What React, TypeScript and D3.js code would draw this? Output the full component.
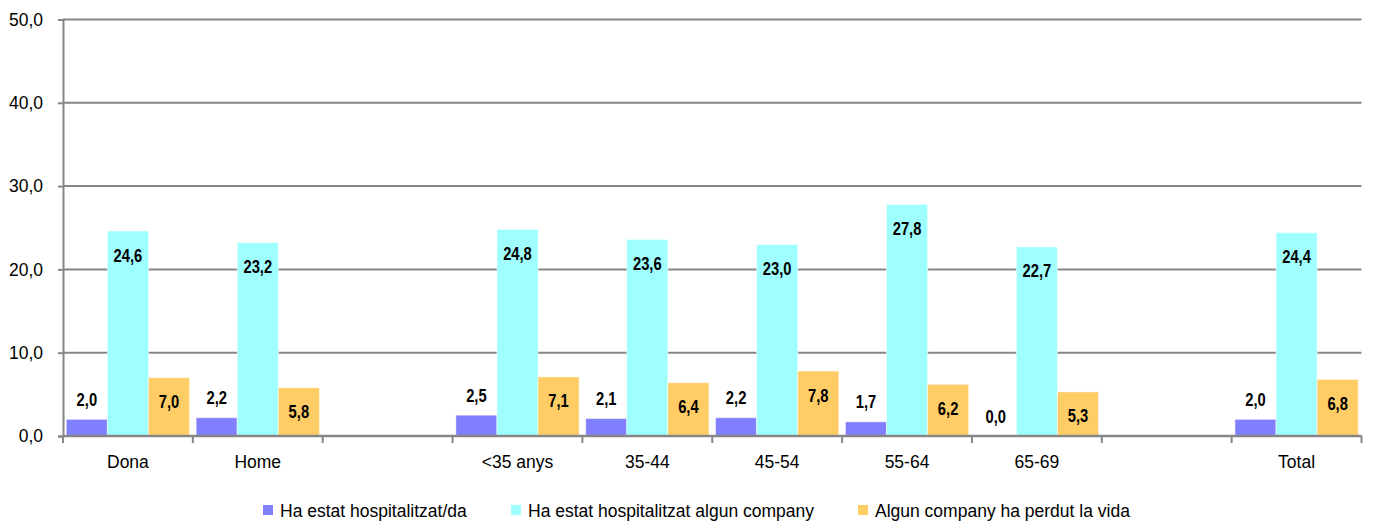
import React, { useEffect, useRef } from 'react';
import * as d3 from 'd3';

const categories = ['Dona', 'Home', '', '<35 anys', '35-44', '45-54', '55-64', '65-69', ' ', 'Total'];
const seriesNames = [
  'Ha estat hospitalitzat/da',
  'Ha estat hospitalitzat algun company',
  'Algun company ha perdut la vida',
];
const seriesColors = ['#8080FF', '#9FFFFF', '#FFCC66'];
// null = no bar/label for the empty spacer columns
const hospitalitzat: (number | null)[] = [2.0, 2.2, null, 2.5, 2.1, 2.2, 1.7, 0.0, null, 2.0];
const hospCompany: (number | null)[] = [24.6, 23.2, null, 24.8, 23.6, 23.0, 27.8, 22.7, null, 24.4];
const perdutVida: (number | null)[] = [7.0, 5.8, null, 7.1, 6.4, 7.8, 6.2, 5.3, null, 6.8];
const yTicks = [0, 10, 20, 30, 40, 50];

const fmt = (v: number) => v.toFixed(1).replace('.', ',');

const App: React.FC = () => {
  const svgRef = useRef<SVGSVGElement>(null);

  useEffect(() => {
    if (!svgRef.current) return;
    const W = 1378, H = 524;
    const left = 63, right = 1361.5, top = 19.5, bottom = 436;

    const svg = d3.select(svgRef.current);
    svg.selectAll('*').remove();
    svg.attr('width', W).attr('height', H);

    const x0 = d3.scaleBand<number>()
      .domain(d3.range(categories.length))
      .range([left, right])
      .padding(0);
    const x1 = d3.scaleBand<number>()
      .domain([0, 1, 2])
      .range([0, x0.bandwidth()])
      .paddingInner(0)
      .paddingOuter(0.08);
    const y = d3.scaleLinear().domain([0, 50]).range([bottom, top]);

    const axisColor = '#868686';
    const font = '"Liberation Sans", Arial, sans-serif';

    // gridlines
    svg.append('g')
      .selectAll('line')
      .data(yTicks.filter(t => t > 0))
      .enter()
      .append('line')
      .attr('x1', left).attr('x2', right)
      .attr('y1', d => y(d)).attr('y2', d => y(d))
      .attr('stroke', axisColor).attr('stroke-width', 2);

    // y axis
    const yAxis = svg.append('g')
      .attr('transform', `translate(${left},0)`)
      .call(d3.axisLeft(y).tickValues(yTicks).tickSize(5).tickFormat(d => fmt(d as number)));
    yAxis.selectAll('path, line').attr('stroke', axisColor).attr('stroke-width', 2);
    yAxis.selectAll('text')
      .attr('x', -20)
      .attr('font-family', font).attr('font-size', 17.5).attr('fill', '#000');

    const series = [hospitalitzat, hospCompany, perdutVida];

    // bars
    series.forEach((vals, si) => {
      const g = svg.append('g');
      g.selectAll('rect')
        .data(vals.map((v, i) => ({ v, i })).filter(d => d.v !== null && d.v > 0))
        .enter()
        .append('rect')
        .attr('x', d => (x0(d.i) || 0) + (x1(si) || 0))
        .attr('y', d => y(d.v as number))
        .attr('width', x1.bandwidth())
        .attr('height', d => bottom - y(d.v as number))
        .attr('fill', seriesColors[si])
        .attr('stroke', '#ffffff').attr('stroke-opacity', 0.5).attr('stroke-width', 1);
    });

    // x axis
    svg.append('line')
      .attr('x1', left).attr('x2', right)
      .attr('y1', bottom).attr('y2', bottom)
      .attr('stroke', axisColor).attr('stroke-width', 2.5);
    svg.append('g')
      .selectAll('line')
      .data(d3.range(categories.length + 1))
      .enter()
      .append('line')
      .attr('x1', d => left + d * x0.step()).attr('x2', d => left + d * x0.step())
      .attr('y1', bottom).attr('y2', bottom + 7)
      .attr('stroke', axisColor).attr('stroke-width', 2);
    svg.append('g')
      .selectAll('text')
      .data(categories)
      .enter()
      .append('text')
      .attr('x', (_, i) => (x0(i) || 0) + x0.bandwidth() / 2)
      .attr('y', 468)
      .attr('text-anchor', 'middle')
      .attr('font-family', font).attr('font-size', 17.5)
      .text(d => d.trim());

    // value labels (bold, horizontally condensed like Arial Narrow)
    series.forEach((vals, si) => {
      svg.append('g')
        .selectAll('text')
        .data(vals.map((v, i) => ({ v, i })).filter(d => d.v !== null))
        .enter()
        .append('text')
        .attr('transform', d => {
          const cx = (x0(d.i) || 0) + (x1(si) || 0) + x1.bandwidth() / 2;
          const cy = si === 0 ? y(d.v as number) - 20 : y(d.v as number) + 24;
          return `translate(${cx},${cy}) scale(0.82,1)`;
        })
        .attr('text-anchor', 'middle')
        .attr('dominant-baseline', 'central')
        .attr('font-family', font).attr('font-weight', 'bold').attr('font-size', 18)
        .attr('fill', '#000')
        .text(d => fmt(d.v as number));
    });

    // legend
    const legendX = [263, 511, 858];
    const leg = svg.append('g');
    seriesNames.forEach((name, i) => {
      leg.append('rect')
        .attr('x', legendX[i]).attr('y', 505)
        .attr('width', 10).attr('height', 10)
        .attr('fill', seriesColors[i]);
      leg.append('text')
        .attr('x', legendX[i] + 17).attr('y', 517)
        .attr('font-family', font).attr('font-size', 17.5)
        .text(name);
    });
  }, []);

  return (
    <div style={{ position: 'absolute', left: 0, top: 0 }}>
      <svg ref={svgRef} style={{ display: 'block' }}></svg>
    </div>
  );
};

export default App;
